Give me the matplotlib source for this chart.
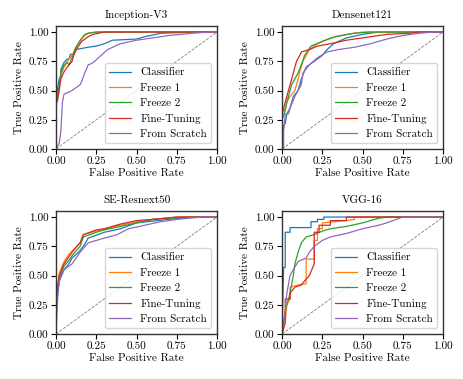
import matplotlib
matplotlib.use("Agg")
import matplotlib.pyplot as plt

plt.rcParams.update({
    "font.family": "serif",
    "font.serif": ["cmr10"],
    "mathtext.fontset": "cm",
    "axes.unicode_minus": False,
    "axes.formatter.use_mathtext": True,
    "font.size": 8,
})

titles = ["Inception-V3", "Densenet121", "SE-Resnext50", "VGG-16"]
labels = ["Classifier", "Freeze 1", "Freeze 2", "Fine-Tuning", "From Scratch"]
colors = ["#1f77b4", "#ff7f0e", "#2ca02c", "#d62728", "#9467bd"]

# ---- Inception-V3 ----
inc_cls_fpr = [0, 0, 0.01, 0.01, 0.02, 0.03, 0.03, 0.05, 0.07, 0.08, 0.09, 0.11, 0.12, 0.16, 0.2, 0.25, 0.3, 0.35, 0.5, 0.55, 0.62, 0.65, 0.9, 1.0]
inc_cls_tpr = [0, 0.38, 0.45, 0.52, 0.6, 0.62, 0.68, 0.74, 0.77, 0.77, 0.81, 0.81, 0.85, 0.86, 0.87, 0.88, 0.9, 0.93, 0.94, 0.96, 0.98, 0.99, 1.0, 1.0]
inc_f1_fpr = [0, 0, 0.01, 0.02, 0.03, 0.05, 0.06, 0.07, 0.1, 0.12, 0.15, 0.17, 0.2, 0.25, 0.3, 1.0]
inc_f1_tpr = [0, 0.4, 0.44, 0.52, 0.63, 0.7, 0.72, 0.75, 0.8, 0.86, 0.92, 0.96, 0.99, 1.0, 1.0, 1.0]
inc_f2_fpr = [0, 0, 0.01, 0.02, 0.03, 0.05, 0.07, 0.08, 0.1, 0.12, 0.15, 0.18, 0.2, 0.25, 1.0]
inc_f2_tpr = [0, 0.42, 0.46, 0.55, 0.65, 0.72, 0.74, 0.72, 0.78, 0.86, 0.93, 0.98, 0.99, 1.0, 1.0]
inc_ft_fpr = [0, 0, 0.01, 0.02, 0.03, 0.05, 0.07, 0.1, 0.11, 0.13, 0.16, 0.2, 0.23, 0.3, 1.0]
inc_ft_tpr = [0, 0.38, 0.42, 0.5, 0.6, 0.66, 0.7, 0.75, 0.8, 0.86, 0.92, 0.96, 0.98, 1.0, 1.0]
inc_fs_fpr = [0, 0.02, 0.03, 0.04, 0.05, 0.07, 0.1, 0.12, 0.15, 0.16, 0.17, 0.2, 0.22, 0.24, 0.28, 0.32, 0.4, 0.5, 0.6, 0.7, 0.85, 0.95, 1.0]
inc_fs_tpr = [0, 0.05, 0.15, 0.4, 0.47, 0.48, 0.5, 0.52, 0.55, 0.58, 0.62, 0.72, 0.73, 0.75, 0.8, 0.85, 0.9, 0.93, 0.95, 0.97, 0.99, 1.0, 1.0]

# ---- Densenet121 ----
den_cls_fpr = [0, 0, 0.01, 0.02, 0.03, 0.05, 0.06, 0.07, 0.1, 0.12, 0.15, 0.2, 0.25, 0.28, 0.32, 0.4, 0.5, 0.6, 1.0]
den_cls_tpr = [0, 0.1, 0.2, 0.22, 0.3, 0.35, 0.4, 0.45, 0.5, 0.6, 0.7, 0.75, 0.8, 0.85, 0.9, 0.95, 0.98, 1.0, 1.0]
den_f1_fpr = [0, 0, 0.02, 0.03, 0.05, 0.08, 0.1, 0.11, 0.13, 0.17, 0.22, 0.3, 0.4, 0.5, 1.0]
den_f1_tpr = [0, 0.3, 0.35, 0.4, 0.45, 0.5, 0.6, 0.66, 0.75, 0.85, 0.9, 0.95, 0.98, 1.0, 1.0]
den_f2_fpr = [0, 0, 0.02, 0.03, 0.06, 0.08, 0.1, 0.12, 0.14, 0.18, 0.25, 0.33, 0.45, 0.55, 1.0]
den_f2_tpr = [0, 0.25, 0.33, 0.4, 0.55, 0.6, 0.65, 0.72, 0.8, 0.88, 0.92, 0.96, 0.99, 1.0, 1.0]
den_ft_fpr = [0, 0, 0.02, 0.03, 0.05, 0.07, 0.09, 0.11, 0.12, 0.17, 0.22, 0.3, 0.4, 0.55, 0.65, 0.8, 0.85, 1.0]
den_ft_tpr = [0, 0.3, 0.4, 0.45, 0.55, 0.65, 0.75, 0.8, 0.83, 0.85, 0.88, 0.9, 0.93, 0.96, 0.98, 0.99, 1.0, 1.0]
den_fs_fpr = [0, 0.01, 0.01, 0.02, 0.04, 0.05, 0.08, 0.1, 0.12, 0.13, 0.17, 0.22, 0.28, 0.35, 0.45, 0.55, 0.65, 0.75, 0.85, 0.95, 1.0]
den_fs_tpr = [0, 0.0, 0.15, 0.3, 0.3, 0.35, 0.45, 0.5, 0.55, 0.65, 0.72, 0.78, 0.83, 0.85, 0.87, 0.9, 0.94, 0.97, 0.99, 1.0, 1.0]

# ---- SE-Resnext50 ----
se_cls_fpr = [0, 0, 0.01, 0.02, 0.05, 0.08, 0.1, 0.14, 0.17, 0.2, 0.3, 0.4, 0.5, 0.7, 0.85, 1.0]
se_cls_tpr = [0, 0.2, 0.35, 0.45, 0.55, 0.6, 0.65, 0.7, 0.75, 0.82, 0.87, 0.9, 0.95, 0.98, 1.0, 1.0]
se_f1_fpr = [0, 0, 0.01, 0.02, 0.05, 0.08, 0.1, 0.13, 0.15, 0.17, 0.25, 0.3, 0.4, 0.5, 0.6, 0.75, 1.0]
se_f1_tpr = [0, 0.3, 0.42, 0.52, 0.62, 0.68, 0.71, 0.75, 0.78, 0.85, 0.88, 0.9, 0.93, 0.96, 0.98, 1.0, 1.0]
se_f2_fpr = [0, 0, 0.01, 0.02, 0.05, 0.08, 0.1, 0.13, 0.15, 0.17, 0.25, 0.3, 0.4, 0.5, 0.6, 0.8, 1.0]
se_f2_tpr = [0, 0.25, 0.38, 0.48, 0.58, 0.63, 0.67, 0.72, 0.75, 0.83, 0.87, 0.89, 0.92, 0.95, 0.98, 1.0, 1.0]
se_ft_fpr = [0, 0, 0.01, 0.02, 0.05, 0.08, 0.1, 0.13, 0.15, 0.17, 0.25, 0.3, 0.4, 0.5, 0.6, 0.75, 1.0]
se_ft_tpr = [0, 0.28, 0.4, 0.5, 0.6, 0.66, 0.7, 0.75, 0.78, 0.85, 0.89, 0.9, 0.94, 0.97, 0.98, 1.0, 1.0]
se_fs_fpr = [0, 0.01, 0.02, 0.03, 0.05, 0.1, 0.12, 0.15, 0.2, 0.25, 0.3, 0.38, 0.45, 0.55, 0.65, 0.75, 0.9, 1.0]
se_fs_tpr = [0, 0.3, 0.45, 0.5, 0.55, 0.6, 0.64, 0.7, 0.78, 0.8, 0.82, 0.85, 0.9, 0.93, 0.96, 0.98, 1.0, 1.0]

# ---- VGG-16 ----
vgg_cls_fpr = [0, 0.01, 0.02, 0.02, 0.05, 0.05, 0.18, 0.18, 0.22, 0.22, 0.26, 0.26, 1.0]
vgg_cls_tpr = [0, 0.57, 0.57, 0.87, 0.87, 0.91, 0.91, 0.96, 0.96, 0.98, 0.98, 1.0, 1.0]
vgg_f1_fpr = [0, 0.02, 0.03, 0.05, 0.05, 0.1, 0.15, 0.15, 0.2, 0.2, 0.22, 0.22, 0.25, 0.25, 0.4, 0.45, 0.45, 1.0]
vgg_f1_tpr = [0, 0.1, 0.25, 0.3, 0.4, 0.42, 0.43, 0.64, 0.64, 0.8, 0.8, 0.9, 0.9, 0.95, 0.97, 0.98, 1.0, 1.0]
vgg_f2_fpr = [0, 0.02, 0.05, 0.07, 0.08, 0.1, 0.12, 0.15, 0.2, 0.25, 0.3, 0.4, 0.5, 0.6, 0.65, 1.0]
vgg_f2_tpr = [0, 0.2, 0.35, 0.5, 0.6, 0.7, 0.78, 0.83, 0.85, 0.88, 0.9, 0.92, 0.95, 0.99, 1.0, 1.0]
vgg_ft_fpr = [0, 0.02, 0.02, 0.05, 0.05, 0.08, 0.12, 0.15, 0.17, 0.2, 0.2, 0.23, 0.23, 0.3, 0.3, 0.4, 0.4, 1.0]
vgg_ft_tpr = [0, 0.1, 0.3, 0.3, 0.35, 0.4, 0.42, 0.47, 0.5, 0.6, 0.87, 0.87, 0.93, 0.93, 0.97, 0.97, 1.0, 1.0]
vgg_fs_fpr = [0, 0.02, 0.03, 0.05, 0.07, 0.1, 0.15, 0.17, 0.2, 0.25, 0.3, 0.4, 0.5, 0.6, 0.65, 0.75, 1.0]
vgg_fs_tpr = [0, 0.2, 0.35, 0.5, 0.55, 0.62, 0.65, 0.7, 0.75, 0.8, 0.83, 0.86, 0.9, 0.93, 0.95, 1.0, 1.0]

panels = [
    [(inc_cls_fpr, inc_cls_tpr), (inc_f1_fpr, inc_f1_tpr), (inc_f2_fpr, inc_f2_tpr), (inc_ft_fpr, inc_ft_tpr), (inc_fs_fpr, inc_fs_tpr)],
    [(den_cls_fpr, den_cls_tpr), (den_f1_fpr, den_f1_tpr), (den_f2_fpr, den_f2_tpr), (den_ft_fpr, den_ft_tpr), (den_fs_fpr, den_fs_tpr)],
    [(se_cls_fpr, se_cls_tpr), (se_f1_fpr, se_f1_tpr), (se_f2_fpr, se_f2_tpr), (se_ft_fpr, se_ft_tpr), (se_fs_fpr, se_fs_tpr)],
    [(vgg_cls_fpr, vgg_cls_tpr), (vgg_f1_fpr, vgg_f1_tpr), (vgg_f2_fpr, vgg_f2_tpr), (vgg_ft_fpr, vgg_ft_tpr), (vgg_fs_fpr, vgg_fs_tpr)],
]

fig = plt.figure(figsize=(4.64, 3.79), dpi=100)
positions = [
    [0.1207, 0.6069, 0.347, 0.324],
    [0.6078, 0.6069, 0.347, 0.324],
    [0.1207, 0.1187, 0.347, 0.324],
    [0.6078, 0.1187, 0.347, 0.324],
]
ticks = [0, 0.25, 0.5, 0.75, 1.0]
for pos, title, curves in zip(positions, titles, panels):
    ax = fig.add_axes(pos)
    ax.plot([0, 1], [0, 1], color="gray", linestyle="--", linewidth=0.6)
    for (fx, ty), lab, c in zip(curves, labels, colors):
        ax.plot(fx, ty, color=c, linewidth=0.9, label=lab)
    ax.set_xlim(0, 1)
    ax.set_ylim(0, 1.05)
    ax.set_xticks(ticks)
    ax.set_yticks(ticks)
    ax.set_xticklabels(["0.00", "0.25", "0.50", "0.75", "1.00"])
    ax.set_yticklabels(["0.00", "0.25", "0.50", "0.75", "1.00"])
    ax.set_xlabel("False Positive Rate", labelpad=2)
    ax.set_ylabel("True Positive Rate", labelpad=3)
    ax.set_title(title, fontsize=8, pad=6)
    for s in ax.spines.values():
        s.set_color("#333333")
        s.set_linewidth(1.0)
    ax.tick_params(length=3.5, width=0.8, pad=2)
    ax.legend(loc="lower right", fontsize=8)

fig.savefig("out.png", dpi=100)
